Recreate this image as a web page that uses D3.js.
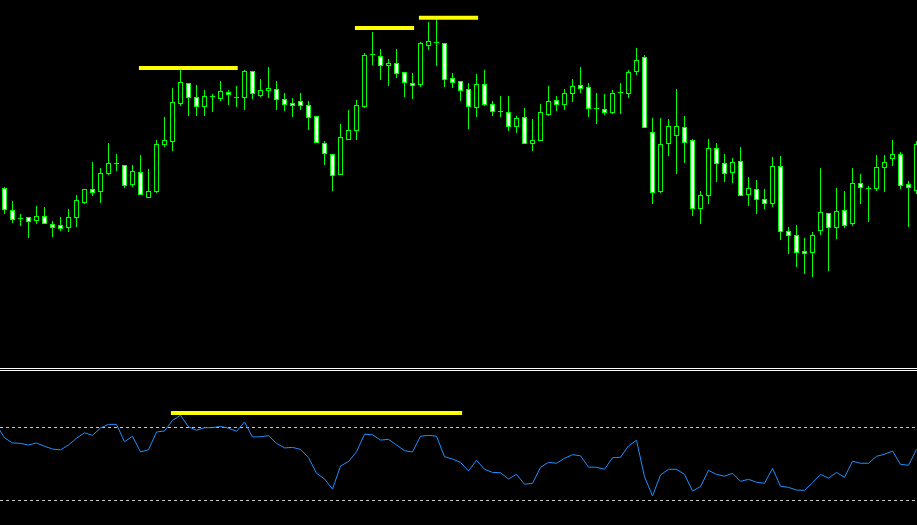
<!DOCTYPE html>
<html><head><meta charset="utf-8">
<script src="https://cdn.jsdelivr.net/npm/d3@7"></script>
<style>html,body{margin:0;padding:0;background:#000;overflow:hidden}</style>
</head><body>
<svg id="chart" width="917" height="525"></svg>
<script>
// ---- data (price in points, oscillator in RSI units) ----
const openP  = [182,160,152,153,150,154,146,145,143,153,168,181,179,197,207,205,186,198,173,179,226,229,267,287,273,264,274,272,278,273,273,299,275,280,281,271,267,269,265,254,227,216,196,231,240,264,316,314,305,307,298,287,286,325,328,327,292,289,281,263,286,266,259,258,244,253,227,230,256,270,266,277,285,283,262,261,258,278,277,299,313,238,179,227,235,243,230,162,175,222,207,198,209,176,181,171,167,204,139,135,119,118,140,157,143,160,147,187,182,182,203,212,216,186,180];
const highP  = [183,169,156,153,164,163,149,153,161,175,181,208,202,227,216,205,205,215,201,230,253,282,300,287,285,280,276,289,280,284,300,299,291,303,289,277,272,277,269,254,229,216,246,260,270,317,338,321,311,321,298,297,328,348,352,327,297,289,287,296,300,269,274,274,254,262,251,266,284,274,281,291,303,287,277,276,280,287,300,322,315,252,252,251,281,254,231,179,231,227,216,212,223,193,190,181,213,214,143,145,132,138,202,157,182,179,202,196,184,215,215,230,218,189,229];
const lowP   = [157,148,145,133,147,147,134,140,139,144,167,175,168,196,200,183,184,176,173,178,224,220,265,255,255,255,259,270,266,264,261,272,274,273,261,260,254,261,241,228,206,180,196,231,231,263,306,291,285,293,274,272,284,321,305,284,283,270,242,254,265,255,254,240,238,227,220,230,255,260,261,269,278,254,247,256,257,257,273,296,243,167,178,215,197,208,155,147,167,189,189,188,175,165,157,162,164,131,117,104,97,94,136,100,132,143,145,167,149,180,179,205,182,144,177];
const closeP = [161,151,152,149,154,147,143,142,153,170,181,178,197,207,207,185,199,176,179,226,230,268,288,273,264,274,274,279,276,273,299,277,280,282,271,266,265,265,253,228,217,195,233,240,265,315,316,305,307,297,288,285,327,329,328,291,288,280,264,286,266,259,259,244,252,227,230,258,269,266,277,284,282,262,262,258,277,278,298,310,243,178,226,244,244,228,162,175,222,207,197,208,175,182,171,167,204,139,135,118,117,135,158,143,159,145,187,183,182,203,208,216,185,183,226];
// oscillator: first value belongs to the bar before the first visible candle
const rsiStart = -1;
const rsi = [71.3,64.3,61.4,61.2,60.3,61.4,59.6,58.1,57.6,60.3,64.0,67.0,65.6,69.6,71.6,71.6,62.1,65.1,56.5,57.7,67.4,68.0,73.8,76.6,70.3,68.4,69.8,69.8,70.5,69.5,67.8,72.9,64.7,64.8,65.4,61.2,58.7,59.0,57.9,53.5,44.8,41.7,36.2,48.8,51.2,56.6,66.2,65.9,63.0,63.4,60.3,57.2,56.5,65.1,65.6,65.1,53.9,52.6,50.8,46.1,51.9,47.0,45.3,45.1,41.7,44.2,38.8,39.3,48.1,50.8,50.3,53.0,55.0,54.4,48.2,48.1,47.0,53.3,53.6,59.8,62.9,42.9,32.4,43.9,47.0,47.0,44.2,35.1,37.5,46.4,44.2,43.2,44.8,40.4,41.5,39.9,39.3,47.5,37.7,37.1,35.6,35.5,39.6,44.2,42.1,45.3,42.6,51.4,50.3,50.3,54.1,55.2,57.0,49.7,49.2,57.9];
const rsiLevels = [70, 30];
// drawn trend marks: [startBar, endBar, value]
const priceMarks = [[16.8, 29.15, 302], [43.8, 51.2, 342], [51.8, 59.2, 352.3]];
const rsiMarks = [[20.8, 57.2, 77.8]];

// ---- drawing ----
const svg = d3.select('#chart');
svg.append('rect').attr('width',917).attr('height',525).attr('fill','#000');
const n = openP.length;
const x = d3.scaleLinear().domain([0, n-1]).range([4.5, 916.5]);
const yP = d3.scaleLinear().domain([0, 370]).range([370, 0]);
const yR = d3.scaleLinear().domain([30, 70]).range([500.3, 427.3]);
const snap = v => Math.round(v) + 0.5;

svg.append('clipPath').attr('id','cpTop').append('rect').attr('x',0).attr('y',0).attr('width',917).attr('height',367);
svg.append('clipPath').attr('id','cpBot').append('rect').attr('x',0).attr('y',372).attr('width',917).attr('height',153);

const gTop = svg.append('g').attr('clip-path','url(#cpTop)');
const bars = d3.range(n).map(i => ({i, o:openP[i], h:highP[i], l:lowP[i], c:closeP[i]}));
const green = '#00ff00';

gTop.selectAll('line.wick').data(bars).join('line').attr('class','wick')
  .attr('x1', d => x(d.i)).attr('x2', d => x(d.i))
  .attr('y1', d => Math.round(yP(d.h))).attr('y2', d => Math.round(yP(d.l)) + 1)
  .attr('stroke', green).attr('stroke-width', 1);

gTop.selectAll('rect.body').data(bars.filter(d => d.o !== d.c)).join('rect').attr('class','body')
  .attr('x', d => x(d.i) - 2).attr('width', 4)
  .attr('y', d => snap(yP(Math.max(d.o, d.c))))
  .attr('height', d => Math.max(1, snap(yP(Math.min(d.o, d.c))) - snap(yP(Math.max(d.o, d.c)))))
  .attr('fill', d => d.c > d.o ? '#000' : '#fff')
  .attr('stroke', green).attr('stroke-width', 1);

gTop.selectAll('line.doji').data(bars.filter(d => d.o === d.c)).join('line').attr('class','doji')
  .attr('x1', d => x(d.i) - 2.5).attr('x2', d => x(d.i) + 2.5)
  .attr('y1', d => snap(yP(d.o))).attr('y2', d => snap(yP(d.o)))
  .attr('stroke', green).attr('stroke-width', 1);

gTop.selectAll('line.mark').data(priceMarks).join('line').attr('class','mark')
  .attr('x1', d => x(d[0])).attr('x2', d => x(d[1]))
  .attr('y1', d => yP(d[2])).attr('y2', d => yP(d[2]))
  .attr('stroke', '#ffff00').attr('stroke-width', 4);

// separator
[368.5, 370.5].forEach(yy => svg.append('line').attr('x1',0).attr('x2',917).attr('y1',yy).attr('y2',yy)
  .attr('stroke','#ffffff').attr('stroke-width',1));

const gBot = svg.append('g').attr('clip-path','url(#cpBot)');
gBot.selectAll('line.level').data(rsiLevels).join('line').attr('class','level')
  .attr('x1',0).attr('x2',917).attr('y1', d => snap(yR(d))).attr('y2', d => snap(yR(d)))
  .attr('stroke','#c8c8c8').attr('stroke-width',1).attr('stroke-dasharray','3,3');

gBot.selectAll('line.rmark').data(rsiMarks).join('line').attr('class','rmark')
  .attr('x1', d => x(d[0])).attr('x2', d => x(d[1]))
  .attr('y1', d => yR(d[2])).attr('y2', d => yR(d[2]))
  .attr('stroke', '#ffff00').attr('stroke-width', 4);

const line = d3.line().x((d, k) => x(k + rsiStart)).y(d => yR(d));
gBot.append('path').datum(rsi).attr('d', line)
  .attr('fill','none').attr('stroke','#1e90ff').attr('stroke-width',1);
</script>
</body></html>
